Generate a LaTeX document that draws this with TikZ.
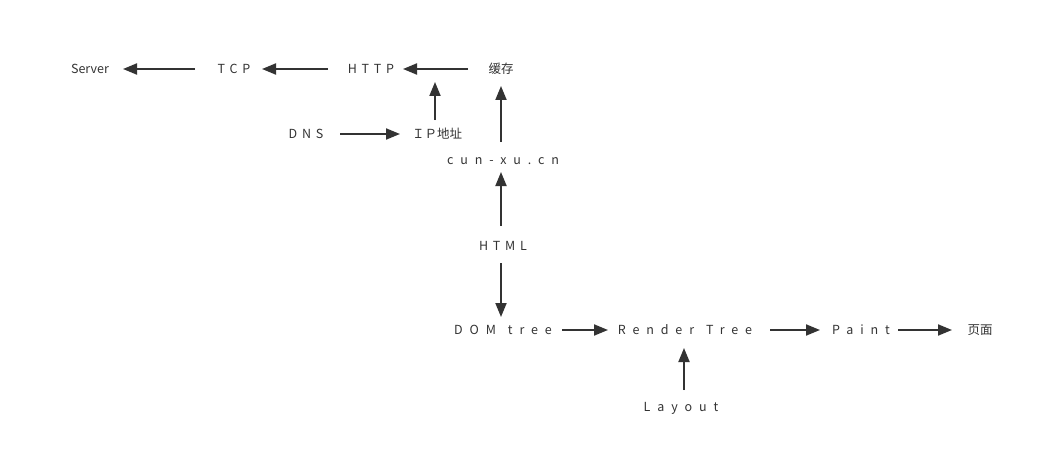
\documentclass[tikz,border=0pt]{standalone}
\usepackage{fontspec}
\setmainfont{Noto Sans CJK SC}
\newfontfamily\spA[LetterSpace=38]{Noto Sans CJK SC}
\newfontfamily\spB[LetterSpace=55]{Noto Sans CJK SC}
\usetikzlibrary{arrows.meta}
\definecolor{ink}{HTML}{333333}
\newcommand{\wgap}{\kern 12pt\relax}
\begin{document}
\begin{tikzpicture}[x=1pt,y=-1pt,
  lbl/.style={text=ink,inner sep=0pt,font=\fontsize{12.5}{14}\selectfont},
  lblA/.style={lbl,font=\fontsize{12.5}{14}\selectfont\spA},
  lblB/.style={lbl,font=\fontsize{12.5}{14}\selectfont\spB},
  arr/.style={draw=ink,line width=1.9pt,-{Triangle[length=14pt,width=11pt]},fill=ink}]
\useasboundingbox (0,0) rectangle (1053,460);
\node[lbl]  (server) at (90,69) {Server};
\node[lblA] (tcp)    at (234,69) {TCP};
\node[lblA] (http)   at (371,69) {HTTP};
\node[lbl]  (cache)  at (501,69) {缓存};
\node[lblA] (dns)    at (306,134) {DNS};
\node[lbl]  (ip)     at (437,134) {ＩＰ地址};
\node[lblB] (url)    at (503,161) {cun-xu.cn};
\node[lblA] (html)   at (503,246) {HTML};
\node[lblB] (dom)    at (503,330) {\mbox{DOM}\wgap\mbox{tree}};
\node[lblB] (render) at (685,330) {\mbox{Render}\wgap\mbox{Tree}};
\node[lblB] (paint)  at (861,330) {Paint};
\node[lbl]  (page)   at (980,330) {页面};
\node[lblB] (layout) at (681,408) {Layout};
\coordinate (a1s) at (195,69);  \coordinate (a1e) at (123,69);
\coordinate (a2s) at (328,69);  \coordinate (a2e) at (262,69);
\coordinate (a3s) at (468,69);  \coordinate (a3e) at (403,69);
\draw[arr] (a1s) -- (a1e);
\draw[arr] (a2s) -- (a2e);
\draw[arr] (a3s) -- (a3e);
\draw[arr] (435,120) -- (435,82);
\draw[arr] (340,134) -- (400,134);
\draw[arr] (501,142) -- (501,86);
\draw[arr] (501,226) -- (501,172);
\draw[arr] (501,263) -- (501,317);
\draw[arr] (562,330) -- (608,330);
\draw[arr] (770,330) -- (820,330);
\draw[arr] (898,330) -- (952,330);
\draw[arr] (684,390) -- (684,348);
\end{tikzpicture}
\end{document}
